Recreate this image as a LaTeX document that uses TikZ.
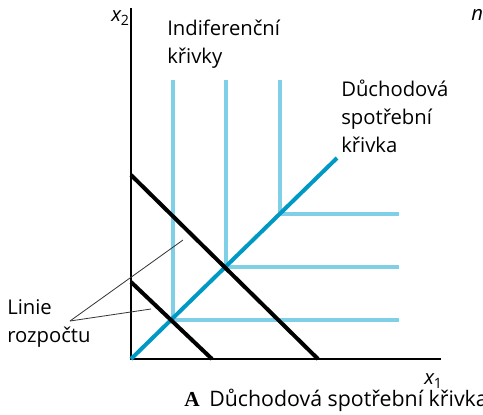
\documentclass[tikz,border=0pt]{standalone}
\usepackage{fontspec}
\setmainfont{Open Sans}
\newfontfamily\capfont{Liberation Serif}
\usetikzlibrary{positioning}

\definecolor{lightblue}{RGB}{127,207,230}
\definecolor{darkblue}{RGB}{0,153,198}

\tikzset{
  axis/.style={line width=2.2pt, black},
  budget/.style={line width=3pt, black},
  indif/.style={line width=3pt, lightblue},
  income/.style={line width=3pt, darkblue},
  leader/.style={line width=0.6pt, black!80},
  lbl/.style={align=left, anchor=west, inner sep=0pt, font=\fontsize{15.2}{21}\selectfont}
}

\begin{document}
\begin{tikzpicture}[x=0.75pt,y=0.75pt,yscale=-1,xscale=1]
\useasboundingbox (0,0) rectangle (483,415);
% axes
\coordinate (O) at (131,359);
\coordinate (ytop) at (131,8);
\coordinate (xend) at (441,359);
\draw [axis] (ytop) -- (O) -- (xend);
\node (xtwo) [lbl] at (111,18) {\itshape x\textsubscript{\upshape 2}};
\node (xone) [lbl] at (424,381) {\itshape x\textsubscript{\upshape 1}};
% indifference curves
\coordinate (c1) at (173,320);
\coordinate (c2) at (226,267);
\coordinate (c3) at (280,214);
\draw [indif] (173,80) -- (c1) -- (399,320);
\draw [indif] (226,80) -- (c2) -- (399,267);
\draw [indif] (280,80) -- (c3) -- (399,214);
% income consumption curve
\coordinate (iend) at (337,158);
\draw [income] (O) -- (iend);
% budget lines
\coordinate (b1) at (131,282);
\coordinate (b1x) at (212,359);
\coordinate (b2) at (131,175);
\coordinate (b2x) at (318,359);
\draw [budget] (b1) -- (b1x);
\draw [budget] (b2) -- (b2x);
% labels
\node (indlbl) [lbl] at (167,44) {Indiferenční\\křivky};
\node (inclbl) [lbl] at (341,116) {Důchodová\\spotřební\\křivka};
\node (budlbl) [lbl] at (7,323) {Linie\\rozpočtu};
\node (nlbl) [lbl] at (471,15) {\itshape n};
\coordinate (lk) at (70,321);
\draw [leader] (lk) -- (183,240);
\draw [leader] (lk) -- (151,309);
% caption
\node (cap) [lbl, font=\fontsize{16}{21}\selectfont] at (184,400) {{\capfont\bfseries A}\hspace{0.45em}Důchodová spotřební křivka};
\end{tikzpicture}
\end{document}
